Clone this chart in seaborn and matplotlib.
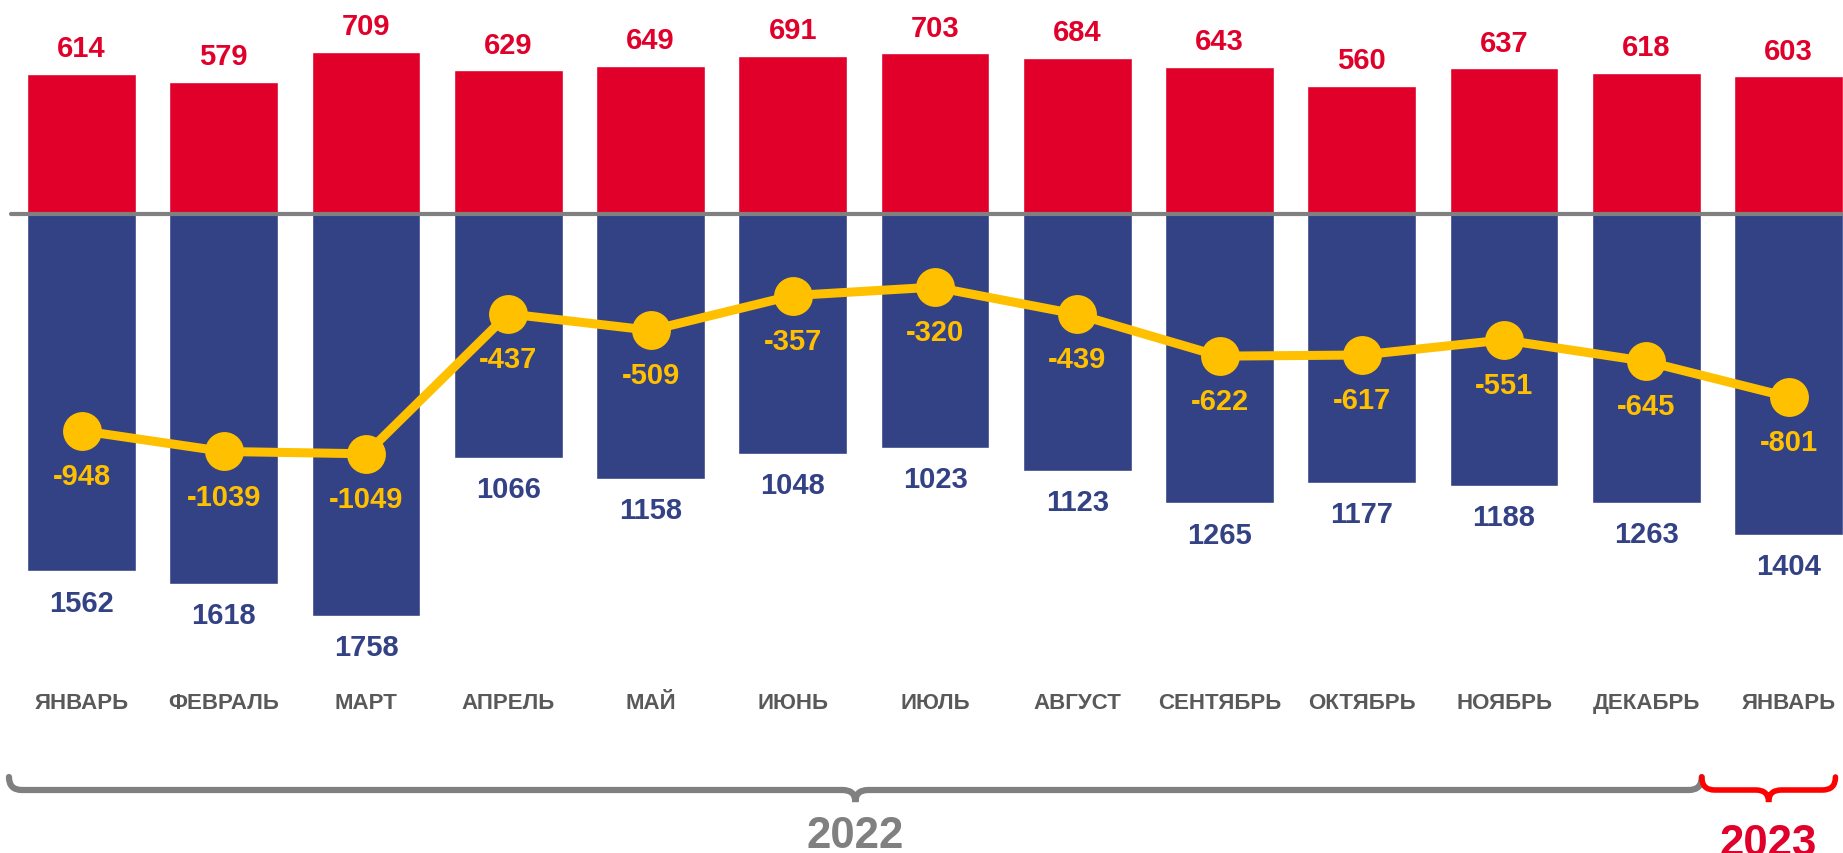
import numpy as np
import pandas as pd
import matplotlib
matplotlib.use("Agg")
import matplotlib.pyplot as plt
import matplotlib.transforms as mtransforms
from matplotlib.path import Path
from matplotlib.patches import PathPatch
import seaborn as sns

months = ["ЯНВАРЬ", "ФЕВРАЛЬ", "МАРТ", "АПРЕЛЬ", "МАЙ", "ИЮНЬ", "ИЮЛЬ",
          "АВГУСТ", "СЕНТЯБРЬ", "ОКТЯБРЬ", "НОЯБРЬ", "ДЕКАБРЬ", "ЯНВАРЬ"]
births = [614, 579, 709, 629, 649, 691, 703, 684, 643, 560, 637, 618, 603]
deaths = [1562, 1618, 1758, 1066, 1158, 1048, 1023, 1123, 1265, 1177, 1188, 1263, 1404]
natural = [-948, -1039, -1049, -437, -509, -357, -320, -439, -622, -617, -551, -645, -801]
years = ["2022", "2023"]
year_spans = [(0, 11), (12, 12)]

RED = "#E0002A"
BLUE = "#334185"
YELLOW = "#FFC000"
GRAY = "#808080"
TXT_GRAY = "#595959"

df = pd.DataFrame({"pos": range(len(months)), "month": months,
                   "births": births, "deaths": [-d for d in deaths],
                   "natural": natural})

sns.set_theme(style="white")
plt.rcParams["font.family"] = ["Liberation Sans", "DejaVu Sans"]

fig = plt.figure(figsize=(18.43, 8.54), dpi=100)
ax = fig.add_axes([0, 0, 1, 1])

sns.barplot(data=df, x="pos", y="births", color=RED, saturation=1,
            width=0.766, ax=ax, zorder=2)
sns.barplot(data=df, x="pos", y="deaths", color=BLUE, saturation=1,
            width=0.766, ax=ax, zorder=2)
sns.lineplot(data=df, x="pos", y="natural", color=YELLOW, linewidth=6.5,
             marker="o", markersize=28, markeredgewidth=0, ax=ax, zorder=4)

ax.set_xlim(-0.573, 12.383)
ax.set_ylim(-2795, 940)
ax.axhline(0, xmin=11 / 1843, xmax=1, color=GRAY, lw=3, zorder=3)
ax.set_axis_off()

num_font = dict(fontsize=21, fontweight="bold", ha="center", va="baseline")
for i, row in df.iterrows():
    ax.annotate(str(row["births"]), (i, row["births"]), xytext=(0, 12.6),
                textcoords="offset points", color=RED, **num_font)
    ax.annotate(str(-row["deaths"]), (i, row["deaths"]), xytext=(0, -28.4),
                textcoords="offset points", color=BLUE, **num_font)
    ax.annotate(str(row["natural"]), (i, row["natural"]), xytext=(0, -38.2),
                textcoords="offset points", color=YELLOW, zorder=5, **num_font)

trans = mtransforms.blended_transform_factory(ax.transData, ax.transAxes)
for i, m in enumerate(months):
    ax.text(i, 1 - 709.5 / 854, m, transform=trans, ha="center", va="baseline",
            fontsize=16, fontweight="bold", color=TXT_GRAY)


def brace(x0, x1, color, lw):
    # curly brace below the axis, coordinates: x data, y axes fraction
    top, mid, tip = 1 - 778 / 854, 1 - 791 / 854, 1 - 803 / 854
    r = 13 / 142.25
    c = (x0 + x1) / 2
    verts = [(x0, top), (x0, mid), (x0 + r, mid),
             (c - r, mid), (c, mid), (c, tip),
             (c, mid), (c + r, mid),
             (x1 - r, mid), (x1, mid), (x1, top)]
    codes = [Path.MOVETO, Path.CURVE3, Path.CURVE3,
             Path.LINETO, Path.CURVE3, Path.CURVE3,
             Path.CURVE3, Path.CURVE3,
             Path.LINETO, Path.CURVE3, Path.CURVE3]
    ax.add_patch(PathPatch(Path(verts, codes), facecolor="none", edgecolor=color,
                           lw=lw, transform=trans, clip_on=False, capstyle="round"))
    return c


c22 = brace(year_spans[0][0] - 0.51, year_spans[0][1] + 0.39, GRAY, 4.5)
c23 = brace(year_spans[1][0] - 0.61, year_spans[1][1] + 0.33, "#FF0000", 4)
ax.text(c22, 1 - 848 / 854, years[0], transform=trans, ha="center", va="baseline",
        fontsize=31.5, fontweight="bold", color=GRAY)
ax.text(c23, 1 - 856 / 854, years[1], transform=trans, ha="center", va="baseline",
        fontsize=31.5, fontweight="bold", color=RED)

fig.savefig("out.png", dpi=100)
